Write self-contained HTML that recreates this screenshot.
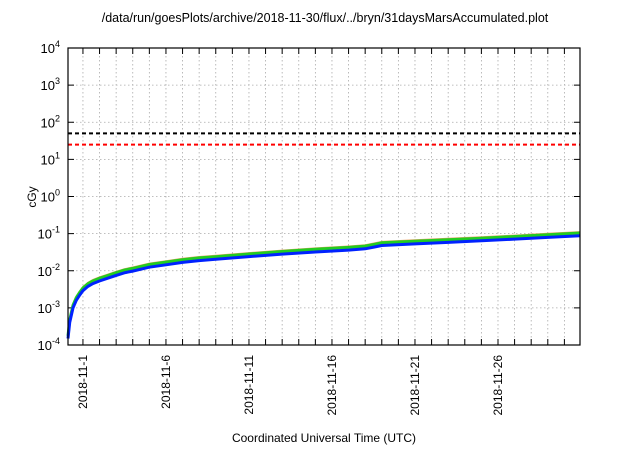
<!DOCTYPE html>
<html><head><meta charset="utf-8"><style>
body{margin:0;background:#fff;font-family:"Liberation Sans",sans-serif}
</style></head><body>
<svg id="chart" width="640" height="448" xmlns="http://www.w3.org/2000/svg" font-family="Liberation Sans, sans-serif" font-size="12">
<text x="325" y="22" text-anchor="middle" font-size="12.5">/data/run/goesPlots/archive/2018-11-30/flux/../bryn/31daysMarsAccumulated.plot</text>
<text transform="translate(36,197) rotate(-90)" text-anchor="middle">cGy</text>
<text x="324" y="442" text-anchor="middle">Coordinated Universal Time (UTC)</text>
<g id="grid"></g><g id="axes"></g><g id="series"></g>
<rect x="68" y="48" width="512" height="297" fill="none" stroke="#000" stroke-width="1.2"/>
</svg>
<script>
const days=[-0.9,-0.8,-0.6,-0.4,-0.2,0,0.3,0.6,1,1.5,2,2.5,3,4,5,6,7,8,10,12,14,16,17,17.6,18,20,22,24,26,28,29.94];
const blue=[0.00015,0.0004,0.001,0.0016,0.0022,0.0029,0.0038,0.0045,0.0053,0.0063,0.0075,0.0088,0.0098,0.0125,0.0145,0.0168,0.0188,0.0203,0.024,0.028,0.032,0.036,0.039,0.044,0.048,0.053,0.058,0.064,0.071,0.079,0.088];
const greenFactor=[1.18];
const limits=[50,25];
const limitColors=["#000","#ff0000"];
const yTicks=[-4,-3,-2,-1,0,1,2,3,4];
const xLabels=["2018-11-1","2018-11-6","2018-11-11","2018-11-16","2018-11-21","2018-11-26"];
const xLabelDays=[0,5,10,15,20,25];
const X0=68,X1=580,Y0=345,Y1=48,D0=-0.9,D1=29.94;
const xs=d=>X0+(d-D0)/(D1-D0)*(X1-X0);
const ys=v=>Y0-(Math.log10(v)+4)/8*(Y0-Y1);
const NS="http://www.w3.org/2000/svg";
function mk(t,a,p){const e=document.createElementNS(NS,t);for(const k in a)e.setAttribute(k,a[k]);p.appendChild(e);return e;}
const grid=document.getElementById('grid'),axes=document.getElementById('axes'),ser=document.getElementById('series');
for(let d=0;d<=29;d++){const x=xs(d);
 const g=mk('line',{x1:x,x2:x,y1:Y1,y2:Y0,stroke:'#aaa','stroke-width':0.8,'stroke-dasharray':'1.5,2.5'},grid);
 
 const t=mk('line',{x1:x,x2:x,y1:Y0,y2:Y0-6,stroke:'#000'},axes);
 const t2=mk('line',{x1:x,x2:x,y1:Y1,y2:Y1+6,stroke:'#000'},axes);}
yTicks.forEach(p=>{const y=ys(Math.pow(10,p));
 if(p>-4&&p<4){const g=mk('line',{x1:X0,x2:X1,y1:y,y2:y,stroke:'#aaa','stroke-width':0.8,'stroke-dasharray':'1.5,2.5'},grid);}
 const t=mk('line',{x1:X0,x2:X0+6,y1:y,y2:y,stroke:'#000'},axes);
 const t2=mk('line',{x1:X1,x2:X1-6,y1:y,y2:y,stroke:'#000'},axes);
 const tx=mk('text',{x:X0-8,y:y+5,'text-anchor':'end','font-size':13},axes);
 
 tx.innerHTML='10<tspan dy="-6" font-size="9">'+p+'</tspan>';});
xLabels.forEach((l,i)=>{const x=xs(xLabelDays[i]);
 const tx=mk('text',{transform:`translate(${x+4},355) rotate(-90)`,'text-anchor':'end'},axes);
 tx.textContent=l;});
limits.forEach((v,i)=>{const y=ys(v);
 const l=mk('line',{x1:X0,x2:X1,y1:y,y2:y,stroke:limitColors[i],'stroke-width':2,'stroke-dasharray':'4,3'},ser);
 });
function path(f){return days.map((d,i)=>(i?'L':'M')+xs(d).toFixed(1)+','+ys(f(blue[i])).toFixed(1)).join('');}
const o=mk('path',{d:path(v=>v*1.28),fill:'none',stroke:'#e8a060','stroke-width':1.2},ser);
const g=mk('path',{d:path(v=>v*greenFactor[0]),fill:'none',stroke:'#22cc22','stroke-width':3},ser);
const b=mk('path',{d:path(v=>v),fill:'none',stroke:'#0022ff','stroke-width':3},ser);
</script>
</body></html>
